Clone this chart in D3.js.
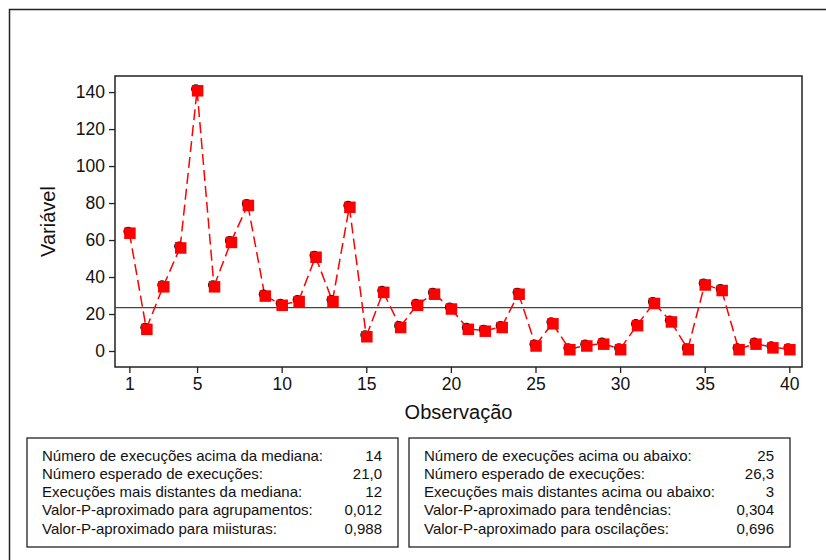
<!DOCTYPE html>
<html>
<head>
<meta charset="utf-8">
<script src="https://cdn.jsdelivr.net/npm/d3@7"></script>
<style>
  body { margin: 0; background: white; }
  text { font-family: "Liberation Sans", Arial, sans-serif; }
</style>
</head>
<body>
<div id="chart"></div>
<script>
const width = 826
const height = 560

// valores
const observacoes = d3.range(1, 41)
const valores = [64, 12, 35, 56, 141, 35, 59, 79, 30, 25,
                 27, 51, 27, 78, 8, 32, 13, 25, 31, 23,
                 12, 11, 13, 31, 3, 15, 1, 3, 4, 1,
                 14, 26, 16, 1, 36, 33, 1, 4, 2, 1]
const mediana = 23.5
const yTicks = [0, 20, 40, 60, 80, 100, 120, 140]
const xTicks = [1, 5, 10, 15, 20, 25, 30, 35, 40]

const rotulosEsq = ["Número de execuções acima da mediana:", "Número esperado de execuções:",
                    "Execuções mais distantes da mediana:", "Valor-P-aproximado para agrupamentos:",
                    "Valor-P-aproximado para miisturas:"]
const valoresEsq = ["14", "21,0", "12", "0,012", "0,988"]
const rotulosDir = ["Número de execuções acima ou abaixo:", "Número esperado de execuções:",
                    "Execuções mais distantes acima ou abaixo:", "Valor-P-aproximado para tendências:",
                    "Valor-P-aproximado para oscilações:"]
const valoresDir = ["25", "26,3", "3", "0,304", "0,696"]

const svg = d3.select("#chart").append("svg")
    .attr("width", width)
    .attr("height", height)

// moldura externa
svg.append("rect")
    .attr("x", 9.5).attr("y", 9.5)
    .attr("width", 900).attr("height", 700)
    .attr("fill", "white")
    .attr("stroke", "#222")
    .attr("stroke-width", 1.5)

const plot = {left: 115, top: 76, right: 802, bottom: 367}

const x = d3.scaleLinear()
    .domain([0.15, 40.75])
    .range([plot.left, plot.right])

const y = d3.scaleLinear()
    .domain([-8.65, 148.7])
    .range([plot.bottom, plot.top])

const eixoX = svg.append("g")
    .attr("transform", `translate(0, ${plot.bottom})`)
    .call(d3.axisBottom(x).tickValues(xTicks).tickSize(6).tickPadding(5).tickSizeOuter(0))
const eixoY = svg.append("g")
    .attr("transform", `translate(${plot.left}, 0)`)
    .call(d3.axisLeft(y).tickValues(yTicks).tickSize(6).tickPadding(4).tickSizeOuter(0))

for (const eixo of [eixoX, eixoY]) {
    eixo.select(".domain").remove()
    eixo.selectAll("line").attr("stroke", "#222").attr("stroke-width", 1.3)
    eixo.selectAll("text")
        .attr("font-family", "'Liberation Sans', Arial, sans-serif")
        .attr("font-size", 17.5)
        .attr("fill", "#111")
}

svg.append("rect")
    .attr("x", plot.left).attr("y", plot.top)
    .attr("width", plot.right - plot.left)
    .attr("height", plot.bottom - plot.top)
    .attr("fill", "none")
    .attr("stroke", "#222")
    .attr("stroke-width", 1.5)

// linha da mediana
svg.append("line")
    .attr("x1", plot.left).attr("x2", plot.right)
    .attr("y1", y(mediana)).attr("y2", y(mediana))
    .attr("stroke", "#444")
    .attr("stroke-width", 1.3)

const dados = observacoes.map((o, i) => ({obs: o, valor: valores[i]}))

const linha = d3.line()
    .x(d => x(d.obs))
    .y(d => y(d.valor))

// cada segmento recomeça o tracejado
svg.append("g").selectAll("path")
    .data(d3.pairs(dados))
    .join("path")
    .attr("d", linha)
    .attr("fill", "none")
    .attr("stroke", "#ff0000")
    .attr("stroke-width", 1.5)
    .attr("stroke-dasharray", "11,5")

const pontos = svg.append("g").selectAll("g")
    .data(dados)
    .join("g")
    .attr("transform", d => `translate(${x(d.obs)}, ${y(d.valor)})`)

pontos.append("circle")
    .attr("cx", -1.2).attr("cy", -1.2)
    .attr("r", 4.8)
    .attr("fill", "#111")
pontos.append("rect")
    .attr("x", -5.2).attr("y", -5.2)
    .attr("width", 11.5).attr("height", 11.5)
    .attr("fill", "#ff0000")

svg.append("text")
    .attr("x", x(20.45)).attr("y", 419)
    .attr("text-anchor", "middle")
    .attr("font-size", 20)
    .attr("fill", "#111")
    .text("Observação")

svg.append("text")
    .attr("transform", `translate(55, ${(plot.top + plot.bottom) / 2}) rotate(-90)`)
    .attr("text-anchor", "middle")
    .attr("font-size", 20)
    .attr("fill", "#111")
    .text("Variável")

// caixas de estatísticas
function caixa(x0, x1, rotulos, valoresCaixa) {
    const g = svg.append("g")
    g.append("rect")
        .attr("x", x0).attr("y", 438)
        .attr("width", x1 - x0).attr("height", 109)
        .attr("fill", "white")
        .attr("stroke", "#222")
        .attr("stroke-width", 1.3)
    g.selectAll(".rotulo")
        .data(rotulos)
        .join("text")
        .attr("class", "rotulo")
        .attr("x", x0 + 15)
        .attr("y", (d, i) => 460.5 + i * 18.3)
        .attr("font-size", 15)
        .attr("fill", "#111")
        .text(d => d)
    g.selectAll(".valor")
        .data(valoresCaixa)
        .join("text")
        .attr("class", "valor")
        .attr("x", x1 - 16)
        .attr("y", (d, i) => 460.5 + i * 18.3)
        .attr("text-anchor", "end")
        .attr("font-size", 15)
        .attr("fill", "#111")
        .text(d => d)
}

caixa(27, 398, rotulosEsq, valoresEsq)
caixa(409, 790, rotulosDir, valoresDir)
</script>
</body>
</html>
